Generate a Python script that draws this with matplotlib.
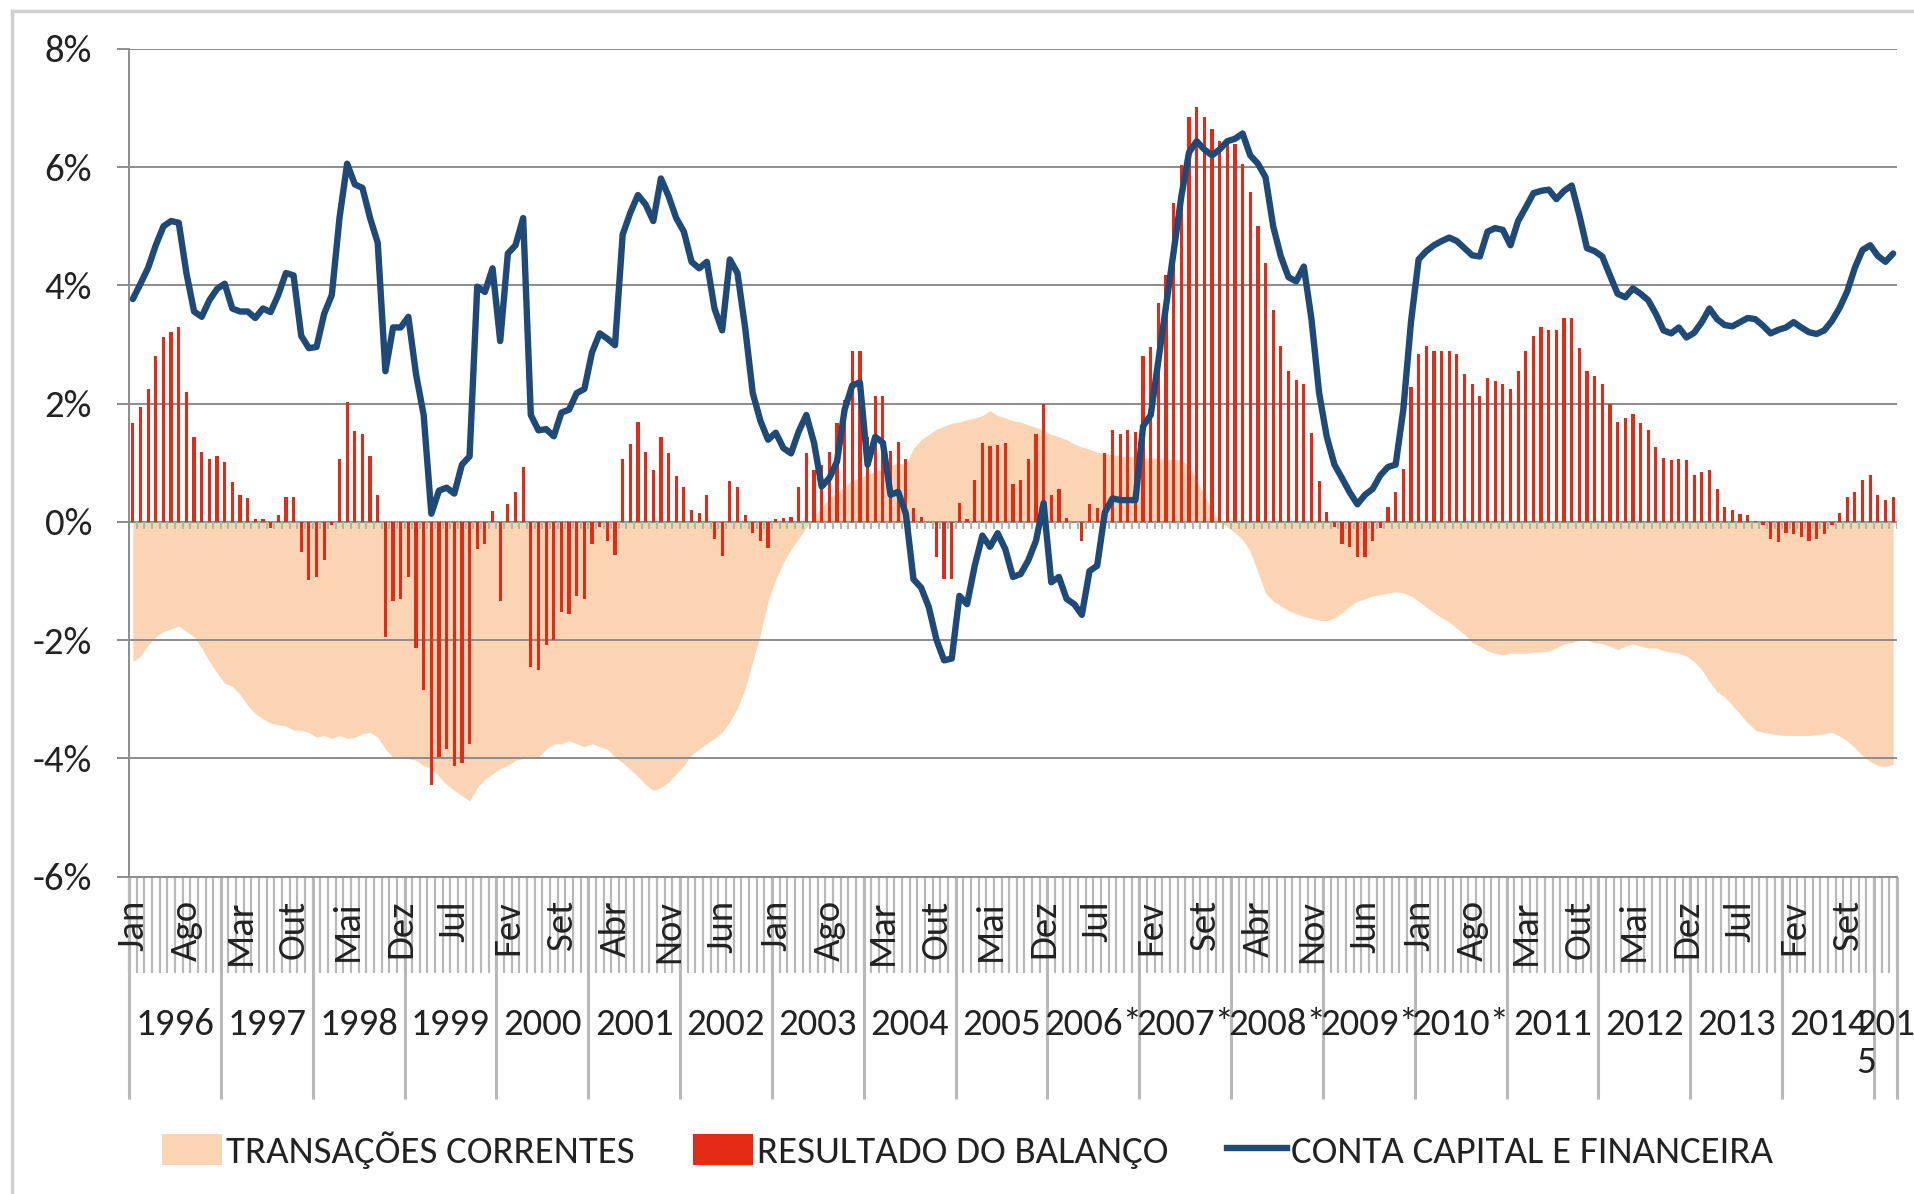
import numpy as np
import matplotlib
matplotlib.use("Agg")
import matplotlib.pyplot as plt
from matplotlib import font_manager
from matplotlib.transforms import blended_transform_factory
from matplotlib.patches import Rectangle, Patch
from matplotlib.lines import Line2D

# Calibri-like font if available
names = {f.name for f in font_manager.fontManager.ttflist}
font = 'Carlito' if 'Carlito' in names else 'Lato'
plt.rcParams['font.family'] = [font, 'DejaVu Sans']
fs = 28 if font == 'Carlito' else 26

# --- data (% of GDP), monthly Jan/1996 - Mar/2015 ---
year_labels = ['1996', '1997', '1998', '1999', '2000', '2001', '2002', '2003',
               '2004', '2005', '2006*', '2007*', '2008*', '2009*', '2010*',
               '2011', '2012', '2013', '2014', '201\n5']
month_names = ['Jan', 'Fev', 'Mar', 'Abr', 'Mai', 'Jun',
               'Jul', 'Ago', 'Set', 'Out', 'Nov', 'Dez']

transacoes = [
    -2.36, -2.27, -2.08, -1.94, -1.85, -1.81, -1.76, -1.85, -1.94, -2.13, -2.36, -2.55,  # 1996
    -2.73, -2.78, -2.92, -3.10, -3.24, -3.33, -3.40, -3.43, -3.45, -3.52, -3.52, -3.56,  # 1997
    -3.64, -3.61, -3.66, -3.61, -3.66, -3.64, -3.58, -3.56, -3.64, -3.84, -3.98, -3.98,  # 1998
    -4.00, -4.03, -4.12, -4.17, -4.30, -4.44, -4.54, -4.63, -4.72, -4.49, -4.35, -4.26,  # 1999
    -4.17, -4.12, -4.03, -4.00, -3.98, -3.98, -3.84, -3.75, -3.75, -3.70, -3.75, -3.80,  # 2000
    -3.75, -3.80, -3.84, -3.98, -4.07, -4.19, -4.30, -4.44, -4.54, -4.49, -4.40, -4.26,  # 2001
    -4.12, -3.94, -3.84, -3.75, -3.66, -3.56, -3.38, -3.15, -2.82, -2.36, -1.90, -1.34,  # 2002
    -0.97, -0.69, -0.46, -0.28, -0.09, 0.10, 0.25, 0.40, 0.50, 0.60, 0.70, 0.75,  # 2003
    0.80, 0.85, 0.90, 0.95, 1.00, 0.97, 1.25, 1.39, 1.48, 1.57, 1.62, 1.67,  # 2004
    1.69, 1.73, 1.76, 1.80, 1.88, 1.80, 1.76, 1.71, 1.69, 1.64, 1.60, 1.55,  # 2005
    1.48, 1.44, 1.39, 1.32, 1.27, 1.23, 1.18, 1.16, 1.14, 1.11, 1.11, 1.09,  # 2006
    1.08, 1.08, 1.07, 1.06, 1.06, 1.05, 0.95, 0.70, 0.45, 0.20, 0.00, -0.08,  # 2007
    -0.18, -0.30, -0.50, -0.85, -1.20, -1.34, -1.42, -1.50, -1.55, -1.60, -1.63, -1.66,  # 2008
    -1.67, -1.62, -1.53, -1.42, -1.34, -1.30, -1.25, -1.23, -1.20, -1.18, -1.20, -1.25,  # 2009
    -1.34, -1.44, -1.53, -1.62, -1.69, -1.80, -1.90, -2.04, -2.10, -2.18, -2.22, -2.25,  # 2010
    -2.22, -2.22, -2.22, -2.20, -2.20, -2.18, -2.13, -2.06, -2.04, -2.00, -2.00, -2.04,  # 2011
    -2.06, -2.10, -2.16, -2.10, -2.06, -2.10, -2.13, -2.13, -2.18, -2.20, -2.22, -2.27,  # 2012
    -2.36, -2.50, -2.70, -2.87, -2.96, -3.10, -3.25, -3.40, -3.52, -3.56, -3.58, -3.60,  # 2013
    -3.61, -3.61, -3.61, -3.61, -3.60, -3.58, -3.56, -3.62, -3.70, -3.82, -3.95, -4.05,  # 2014
    -4.12, -4.14, -4.10,  # 2015
]

resultado = [
    1.67, 1.94, 2.25, 2.80, 3.13, 3.22, 3.30, 2.20, 1.44, 1.18, 1.06, 1.11,  # 1996
    1.02, 0.68, 0.46, 0.40, 0.05, 0.05, -0.10, 0.12, 0.42, 0.42, -0.50, -0.98,  # 1997
    -0.93, -0.65, -0.05, 1.07, 2.03, 1.54, 1.48, 1.11, 0.46, -1.95, -1.34, -1.30,  # 1998
    -0.93, -2.13, -2.84, -4.44, -3.98, -3.84, -4.12, -4.07, -3.75, -0.46, -0.37, 0.19,  # 1999
    -1.34, 0.31, 0.51, 0.93, -2.45, -2.50, -2.08, -1.99, -1.53, -1.56, -1.25, -1.30,  # 2000
    -0.37, -0.09, -0.32, -0.56, 1.06, 1.32, 1.69, 1.19, 0.88, 1.44, 1.16, 0.77,  # 2001
    0.60, 0.21, 0.16, 0.46, -0.28, -0.58, 0.69, 0.60, 0.12, -0.19, -0.32, -0.44,  # 2002
    0.05, 0.06, 0.09, 0.60, 1.16, 0.88, 0.97, 1.18, 1.67, 2.06, 2.89, 2.89,  # 2003
    1.44, 2.13, 2.13, 1.20, 1.36, 1.06, 0.23, 0.09, 0.00, -0.60, -0.97, -0.97,  # 2004
    0.32, 0.05, 0.71, 1.34, 1.28, 1.30, 1.34, 0.65, 0.71, 1.06, 1.48, 1.99,  # 2005
    0.46, 0.56, 0.06, 0.00, -0.32, 0.31, 0.23, 1.16, 1.56, 1.48, 1.56, 1.53,  # 2006
    2.81, 2.96, 3.70, 4.17, 5.40, 6.04, 6.85, 7.02, 6.85, 6.64, 6.45, 6.44,  # 2007
    6.39, 6.06, 5.58, 5.00, 4.38, 3.58, 2.98, 2.55, 2.40, 2.33, 1.50, 0.69,  # 2008
    0.17, -0.09, -0.37, -0.42, -0.60, -0.60, -0.32, -0.10, 0.25, 0.51, 0.90, 2.29,  # 2009
    2.84, 2.98, 2.90, 2.90, 2.90, 2.84, 2.50, 2.34, 2.13, 2.43, 2.39, 2.34,  # 2010
    2.25, 2.56, 2.90, 3.15, 3.29, 3.24, 3.24, 3.45, 3.45, 2.94, 2.55, 2.47,  # 2011
    2.33, 1.99, 1.69, 1.76, 1.83, 1.67, 1.56, 1.27, 1.08, 1.04, 1.06, 1.05,  # 2012
    0.80, 0.85, 0.88, 0.56, 0.25, 0.20, 0.14, 0.12, 0.02, -0.05, -0.28, -0.34,  # 2013
    -0.19, -0.21, -0.25, -0.32, -0.28, -0.21, -0.05, 0.16, 0.42, 0.51, 0.71, 0.80,  # 2014
    0.46, 0.37, 0.42,  # 2015
]

conta_capital = [
    3.77, 4.03, 4.30, 4.68, 5.00, 5.09, 5.06, 4.21, 3.56, 3.47, 3.75, 3.94,  # 1996
    4.03, 3.61, 3.56, 3.56, 3.45, 3.61, 3.55, 3.84, 4.21, 4.17, 3.15, 2.94,  # 1997
    2.96, 3.52, 3.84, 5.14, 6.06, 5.71, 5.65, 5.14, 4.72, 2.55, 3.29, 3.29,  # 1998
    3.47, 2.50, 1.81, 0.14, 0.53, 0.58, 0.48, 0.97, 1.11, 3.98, 3.89, 4.29,  # 1999
    3.06, 4.54, 4.68, 5.14, 1.81, 1.55, 1.57, 1.45, 1.85, 1.90, 2.18, 2.25,  # 2000
    2.87, 3.19, 3.10, 2.99, 4.86, 5.23, 5.53, 5.37, 5.09, 5.81, 5.51, 5.14,  # 2001
    4.91, 4.40, 4.29, 4.40, 3.61, 3.24, 4.44, 4.21, 3.29, 2.18, 1.71, 1.39,  # 2002
    1.51, 1.25, 1.16, 1.53, 1.81, 1.34, 0.60, 0.74, 1.02, 1.90, 2.31, 2.36,  # 2003
    0.97, 1.44, 1.34, 0.46, 0.51, 0.14, -0.97, -1.11, -1.44, -1.99, -2.34, -2.31,  # 2004
    -1.25, -1.39, -0.74, -0.23, -0.42, -0.19, -0.46, -0.93, -0.88, -0.65, -0.32, 0.32,  # 2005
    -1.02, -0.93, -1.30, -1.39, -1.57, -0.83, -0.74, 0.16, 0.40, 0.37, 0.37, 0.37,  # 2006
    1.62, 1.81, 2.73, 3.66, 4.58, 5.51, 6.25, 6.44, 6.30, 6.20, 6.30, 6.44,  # 2007
    6.48, 6.57, 6.20, 6.06, 5.83, 5.00, 4.49, 4.14, 4.07, 4.32, 3.43, 2.18,  # 2008
    1.44, 0.97, 0.74, 0.50, 0.30, 0.46, 0.56, 0.79, 0.93, 0.97, 1.90, 3.38,  # 2009
    4.44, 4.58, 4.68, 4.75, 4.81, 4.75, 4.63, 4.51, 4.49, 4.91, 4.97, 4.94,  # 2010
    4.68, 5.09, 5.32, 5.56, 5.60, 5.62, 5.46, 5.60, 5.69, 5.19, 4.63, 4.58,  # 2011
    4.49, 4.17, 3.86, 3.80, 3.95, 3.86, 3.75, 3.52, 3.24, 3.19, 3.29, 3.12,  # 2012
    3.20, 3.38, 3.61, 3.43, 3.33, 3.31, 3.38, 3.45, 3.43, 3.32, 3.19, 3.25,  # 2013
    3.29, 3.38, 3.29, 3.21, 3.18, 3.24, 3.40, 3.62, 3.90, 4.30, 4.60, 4.68,  # 2014
    4.50, 4.40, 4.54,  # 2015
]

peach = '#FBD4B4'
red = '#E42A17'
navy = '#1F4A78'
grid_c = '#8C8C8C'
tick_c = '#B8B8B8'
text_c = '#222222'

n = len(conta_capital)
x = np.arange(n)

fig = plt.figure(figsize=(19.14, 11.94), dpi=100)
ax = fig.add_axes([0.0674, 0.2657, 0.9911 - 0.0674, 0.959 - 0.2657])

ax.fill_between(x, transacoes, 0, color=peach, lw=0, zorder=1)
for v in range(-4, 9, 2):
    ax.axhline(v, color=grid_c, lw=1.4, zorder=1.5)
ax.bar(x, resultado, width=0.42, color=red, lw=0, zorder=3)
ax.plot(x, conta_capital, color=navy, lw=4.6, zorder=4,
        solid_joinstyle='round', solid_capstyle='round')

# small ticks under the 0% line
ax.vlines(np.arange(n + 1) - 0.5, -0.12, 0, color='#A9B9A4', lw=1.5, zorder=2)

ax.set_xlim(-0.5, n - 0.5)
ax.set_ylim(-6, 8)
ax.set_yticks(range(-6, 9, 2))
ax.set_yticklabels([f'{v}%' for v in range(-6, 9, 2)])
ax.set_xticks([])
ax.tick_params(axis='y', length=8.6, width=1.4, color=grid_c, pad=18,
               labelsize=fs, labelcolor=text_c)
for s in ['top', 'right']:
    ax.spines[s].set_visible(False)
for s in ['left', 'bottom']:
    ax.spines[s].set_color(grid_c)
    ax.spines[s].set_linewidth(1.4)

# category axis: month ticks, month labels, year separators and labels
trans = blended_transform_factory(ax.transData, ax.transAxes)
ax.vlines(np.arange(n + 1) - 0.5, -0.116, 0, transform=trans, color=tick_c,
          lw=1.6, clip_on=False)
bounds = [-0.5 + 12 * k for k in range(len(year_labels))] + [n - 0.5]
ax.vlines(bounds, -0.268, 0, transform=trans, color=tick_c, lw=2.2, clip_on=False)

for i in range(0, n, 7):
    ax.text(i, -0.028, month_names[i % 12], transform=trans, rotation=90,
            ha='center', va='top', fontsize=fs, color=text_c)

for k, lab in enumerate(year_labels):
    c = (bounds[k] + bounds[k + 1]) / 2
    ax.text(c, -0.158, lab, transform=trans, ha='center', va='top',
            multialignment='left', fontsize=fs, color=text_c, linespacing=1.2)

# outer chart border
fig.patches.append(Rectangle((12 / 1914, -0.1), 1.2, 1 - 11 / 1194 + 0.1,
                             transform=fig.transFigure, fill=False,
                             edgecolor='#CFCFCF', lw=2.5))

handles = [Patch(facecolor=peach, lw=0), Patch(facecolor=red, lw=0),
           Line2D([], [], color=navy, lw=4.6)]
labels = ['TRANSAÇÕES CORRENTES', 'RESULTADO DO BALANÇO', 'CONTA CAPITAL E FINANCEIRA']
fig.legend(handles, labels, loc='center left', bbox_to_anchor=(162 / 1914, 1 - 1150 / 1194),
           ncol=3, frameon=False, fontsize=fs, handlelength=1.55, handleheight=0.85,
           handletextpad=0.1, columnspacing=1.5, borderpad=0, borderaxespad=0,
           labelcolor=text_c)

fig.savefig('out.png', dpi=100)
